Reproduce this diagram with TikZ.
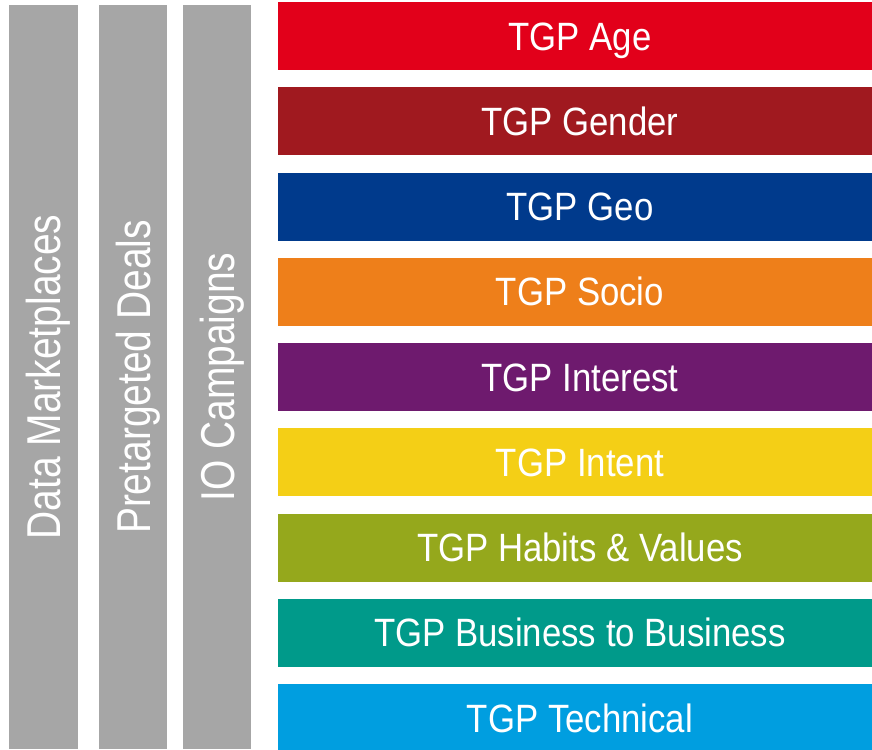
\documentclass[tikz,border=0pt]{standalone}
\usepackage{fontspec}
\setmainfont{Liberation Sans}
\newfontfamily\barfont[FakeStretch=0.88]{Liberation Sans}
\newfontfamily\sidefont[FakeStretch=0.82]{Liberation Sans}
\usetikzlibrary{positioning}

\definecolor{sidegray}{HTML}{A6A6A6}
\definecolor{tgpred}{HTML}{E2001A}
\definecolor{tgpdarkred}{HTML}{A0191F}
\definecolor{tgpblue}{HTML}{003A8C}
\definecolor{tgporange}{HTML}{EE7F1A}
\definecolor{tgppurple}{HTML}{6E1A6E}
\definecolor{tgpyellow}{HTML}{F4CF16}
\definecolor{tgpolive}{HTML}{95A81C}
\definecolor{tgpteal}{HTML}{009A8A}
\definecolor{tgplightblue}{HTML}{009EE0}

\tikzset{
  sidebar/.style = {fill = sidegray, text = white, rotate = 90, inner sep = 0pt,
    minimum width = 744pt, minimum height = #1, text height = 34pt, text depth = 0pt,
    font = \sidefont\fontsize{47.5}{48}\selectfont},
  tgpbar/.style = {fill = #1, text = white, inner sep = 0pt,
    minimum width = 594pt, minimum height = 68pt, text height = 28.3pt, text depth = 0pt,
    font = \barfont\fontsize{39.5}{40}\selectfont}
}

\begin{document}
\begin{tikzpicture}[x = 1pt, y = -1pt]
	\useasboundingbox (0, 0) rectangle (872, 749);
	% channels
	\node [sidebar = 69pt] (market) at (43.5, 377) {Data Marketplaces};
	\node [sidebar = 68pt] (deals) at (133, 377) {Pretargeted Deals};
	\node [sidebar = 68pt] (io) at (217, 377) {IO Campaigns};
	% segments
	\foreach \i/\col/\lab in {0/tgpred/Age, 1/tgpdarkred/Gender, 2/tgpblue/Geo,
		3/tgporange/Socio, 4/tgppurple/Interest, 5/tgpyellow/Intent,
		6/tgpolive/Habits \& Values, 7/tgpteal/Business to Business,
		8/tgplightblue/Technical}
		\node [tgpbar = \col] (tgp\i) at (575, 36 + 85.25 * \i) {\hspace*{10pt}TGP \lab};
\end{tikzpicture}
\end{document}
